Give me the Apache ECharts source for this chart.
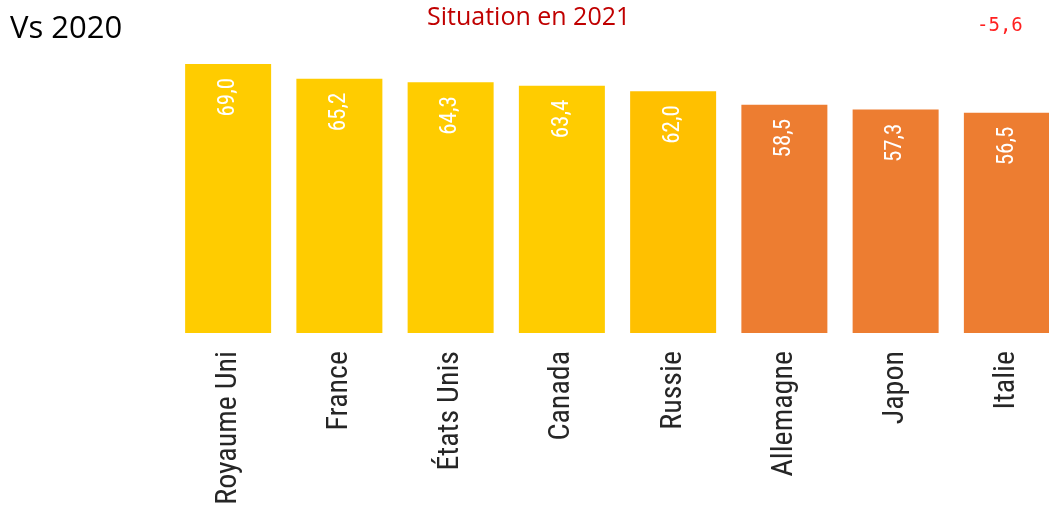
<!DOCTYPE html>
<html>
<head>
<meta charset="utf-8">
<script src="https://cdn.jsdelivr.net/npm/echarts@6/dist/echarts.min.js"></script>
<style>
html,body{margin:0;padding:0;background:#fff;}
#c{width:1049px;height:506px;}
</style>
</head>
<body>
<div id="c"></div>
<script>
const categories = ['Royaume Uni', 'France', 'États Unis', 'Canada', 'Russie', 'Allemagne', 'Japon', 'Italie'];
const values = [69.0, 65.2, 64.3, 63.4, 62.0, 58.5, 57.3, 56.5];
const barColors = ['#FFCC00', '#FFCC00', '#FFCC00', '#FFCC00', '#FFC000', '#ED7D31', '#ED7D31', '#ED7D31'];
const leftText = 'Vs 2020';
const titleText = 'Situation en 2021';
const deltaText = '-5,6';

const chart = echarts.init(document.getElementById('c'));
const narrow = '"Liberation Sans Narrow", "Arial Narrow", "Roboto Condensed", sans-serif';
chart.setOption({
  animation: false,
  backgroundColor: '#fff',
  grid: { left: 172.5, top: 60, width: 890, height: 273, containLabel: false, outerBoundsMode: 'none' },
  xAxis: {
    type: 'category',
    data: categories,
    axisLine: { show: false },
    axisTick: { show: false },
    axisLabel: {
      rotate: 90,
      margin: 18,
      interval: 0,
      color: '#262626',
      fontSize: 30,
      fontFamily: narrow
    }
  },
  yAxis: {
    type: 'value',
    min: 0,
    max: 70,
    show: false,
    splitLine: { show: false }
  },
  series: [{
    type: 'bar',
    barWidth: 86,
    data: values.map((v, i) => ({ value: v, itemStyle: { color: barColors[i] } })),
    label: {
      show: true,
      position: 'insideTop',
      distance: 14,
      rotate: 90,
      align: 'right',
      verticalAlign: 'middle',
      color: '#ffffff',
      fontSize: 23,
      fontFamily: narrow
    }
  }],
  graphic: [
    { type: 'text', left: 10, top: 14, style: { text: leftText, fill: '#000', font: '400 31px "Open Sans", sans-serif' } },
    { type: 'text', left: 427, top: 5, style: { text: titleText, fill: '#C00000', font: '400 25px "Open Sans", sans-serif' } },
    { type: 'text', left: 977, top: 17, style: { text: deltaText, fill: '#FF2020', font: '400 19px "DejaVu Sans Mono", monospace' } }
  ]
});
chart.setOption({
  series: [{
    label: { formatter: p => p.value.toFixed(1).replace('.', ',') }
  }]
});
</script>
</body>
</html>
